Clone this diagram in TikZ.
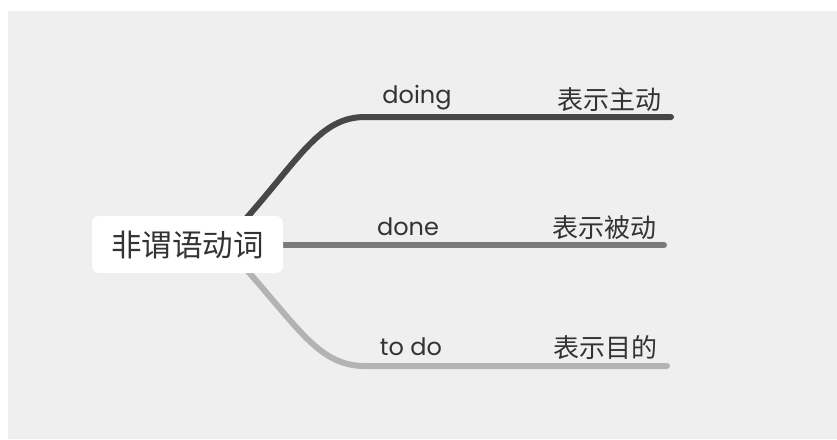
\documentclass[tikz,border=0pt]{standalone}
\usepackage{fontspec}
\setmainfont{Poppins}
\newfontfamily\cjk{Noto Sans CJK SC}
\definecolor{bggray}{HTML}{EFEFEF}
\definecolor{topc}{HTML}{474747}
\definecolor{midc}{HTML}{7A7A7A}
\definecolor{botc}{HTML}{B3B3B3}
\definecolor{txt}{HTML}{333333}
\begin{document}
\begin{tikzpicture}[x=1pt,y=-1pt,
  cjklabel/.style={font=\cjk\fontsize{26}{30}\selectfont, text=txt, inner sep=0pt},
  enlabel/.style={font=\fontsize{24}{28}\selectfont, text=txt, inner sep=0pt},
  branch/.style={line width=6pt, line cap=round},
  rootbox/.style={fill=white, rounded corners=7pt, minimum width=191pt, minimum height=57pt, inner sep=0pt,
    font=\cjk\fontsize{30.5}{34}\selectfont, text=txt}]
\useasboundingbox (0,0) rectangle (837,439);
\fill[white] (0,0) rectangle (837,439);
\fill[bggray] (8,11) rectangle (837,439);

% anchors of branches
\coordinate (tstart) at (243,222);
\coordinate (tbend) at (365,117);
\coordinate (tend) at (671,117);
\coordinate (mstart) at (280,245);
\coordinate (mend) at (664,245);
\coordinate (bstart) at (245,268);
\coordinate (bbend) at (365,366);
\coordinate (bend) at (667,366);

\draw[branch, topc] (tstart) .. controls (300,158) and (320,117) .. (tbend) -- (tend);
\draw[branch, midc] (mstart) -- (mend);
\draw[branch, botc] (bstart) .. controls (300,330) and (320,366) .. (bbend) -- (bend);

\node[rootbox] (root) at (187.5,244.5) {非谓语动词};

\node[enlabel] (doing) at (417,98) {doing};
\node[enlabel] (done) at (408,227) {done};
\node[enlabel] (todo) at (411,347) {to do};

\node[cjklabel] (l1) at (609,100) {表示主动};
\node[cjklabel] (l2) at (604,228) {表示被动};
\node[cjklabel] (l3) at (605,348) {表示目的};
\end{tikzpicture}
\end{document}
